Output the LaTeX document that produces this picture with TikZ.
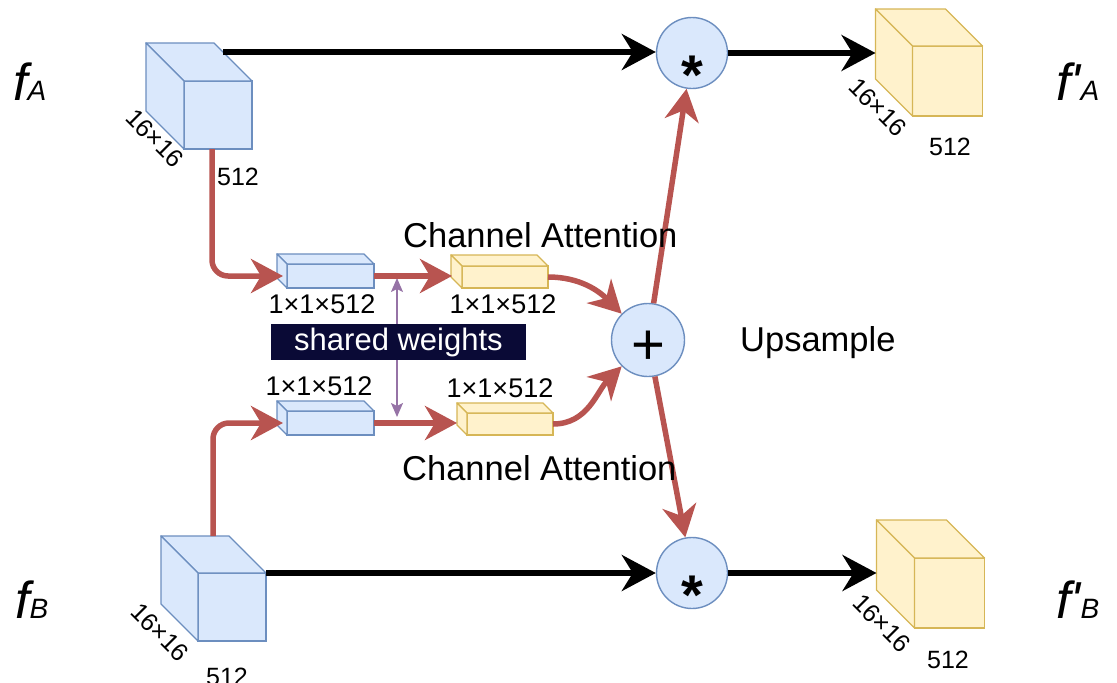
\documentclass[tikz,border=0pt]{standalone}
\usepackage{fontspec}
\setmainfont{Liberation Sans}
\usetikzlibrary{arrows.meta}

\definecolor{blueFill}{HTML}{DAE8FC}
\definecolor{blueLine}{HTML}{6C8EBF}
\definecolor{yelFill}{HTML}{FFF2CC}
\definecolor{yelLine}{HTML}{D6B656}
\definecolor{redLine}{HTML}{B85450}
\definecolor{purpLine}{HTML}{9673A6}
\definecolor{navyBox}{HTML}{0A0A36}

% side and top faces of a box whose front face is node #1
\newcommand\cubefaces[4]{%
  \filldraw[fill=#2, draw=#3, line width=1.4pt, line join=round]
    (#1.north west) -- ([shift={(-#4,-#4)}]#1.north west)
    -- ([shift={(-#4,-#4)}]#1.north east) -- (#1.north east) -- cycle;
  \filldraw[fill=#2, draw=#3, line width=1.4pt, line join=round]
    (#1.north west) -- ([shift={(-#4,-#4)}]#1.north west)
    -- ([shift={(-#4,-#4)}]#1.south west) -- (#1.south west) -- cycle;
}

\tikzset{
  face/.style 2 args={draw=#2, fill=#1, line width=1.4pt, inner sep=0pt, outer sep=0pt},
  bigblue/.style={face={blueFill}{blueLine}, minimum width=68pt, minimum height=68pt},
  bigyel/.style={face={yelFill}{yelLine}, minimum width=70pt, minimum height=70pt},
  smallblue/.style={face={blueFill}{blueLine}, minimum width=87pt, minimum height=24pt},
  smallyel/.style={face={yelFill}{yelLine}, minimum width=86pt, minimum height=22pt},
  opnode/.style={circle, draw=blueLine, fill=blueFill, line width=1.4pt, inner sep=0pt, minimum size=71pt},
  startxt/.style={font=\fontsize{56}{56}\selectfont\bfseries, inner sep=0pt, yshift=-22pt},
  plustxt/.style={font=\fontsize{58}{58}\selectfont, inner sep=0pt, yshift=-8pt},
  blk/.style={draw=black, line width=5.5pt, -{Stealth[length=34pt,width=36pt,inset=11pt]}},
  redarr/.style={draw=redLine, line width=5.5pt, -{Stealth[length=32pt,width=34pt,inset=10pt]}},
  purparr/.style={draw=purpLine, line width=1.8pt, {Stealth[length=14pt,width=12pt,inset=3pt]}-{Stealth[length=14pt,width=12pt,inset=3pt]}},
  dimtxt/.style={font=\fontsize{27}{30}\selectfont, inner sep=0pt},
  sizetxt/.style={font=\fontsize{25}{27}\selectfont, inner sep=0pt},
  headtxt/.style={font=\fontsize{34.5}{38}\selectfont, inner sep=0pt, anchor=base west},
  feat/.style={inner sep=0pt, anchor=base west},
  swbox/.style={fill=navyBox, text=white, font=\fontsize{31}{34}\selectfont, minimum width=255pt, minimum height=36pt, inner sep=0pt}
}
\newcommand\bigf{\fontsize{52}{52}\selectfont\itshape}
\newcommand\subf{\fontsize{28}{28}\selectfont\itshape}

\begin{document}
\begin{tikzpicture}[x=1pt, y=-1pt]
\useasboundingbox (0,0) rectangle (1117,683);

% feature blocks
\node[bigblue] (cA) at (218,115) {};
\cubefaces{cA}{blueFill}{blueLine}{38}
\node[bigblue] (cB) at (232,607) {};
\cubefaces{cB}{blueFill}{blueLine}{37}
\node[bigyel] (oA) at (947.5,81) {};
\cubefaces{oA}{yelFill}{yelLine}{37}
\node[bigyel] (oB) at (949.5,593) {};
\cubefaces{oB}{yelFill}{yelLine}{38}

% pooled vectors
\node[smallblue] (bA) at (330.5,276) {};
\cubefaces{bA}{blueFill}{blueLine}{10}
\node[smallyel] (yA) at (505,277) {};
\cubefaces{yA}{yelFill}{yelLine}{11}
\node[smallblue] (bB) at (330.5,423) {};
\cubefaces{bB}{blueFill}{blueLine}{10}
\node[smallyel] (yB) at (510,424) {};
\cubefaces{yB}{yelFill}{yelLine}{10}

% operators
\node[opnode, label={[startxt]center:*}] (mulA) at (692,53) {};
\node[opnode, minimum size=73pt, label={[plustxt]center:+}] (plus) at (648,340) {};
\node[opnode, label={[startxt]center:*}] (mulB) at (692,573) {};

% shared weights marker
\coordinate (swTop) at (397,278);
\coordinate (swBot) at (397,417);
\draw[purparr] (swTop) -- (swBot);
\node[swbox] (sw) at (398.5,342) {shared weights};

% main paths
\coordinate (aStart) at ([shift={(-29,-29)}]cA.north east);
\coordinate (oAin) at ([xshift=-37pt]oA.west);
\coordinate (oBin) at ([xshift=-38pt]oB.west);
\draw[blk] (aStart) -- (aStart -| mulA.west);
\draw[blk] (mulA) -- (mulA -| oAin);
\draw[blk] (cB.north east) -- (mulB.west);
\draw[blk] (mulB) -- (mulB -| oBin);

% attention branch
\draw[redarr, rounded corners=16pt] ([xshift=-6pt]cA.south) |- ([xshift=-4pt]bA.west);
\draw[redarr, rounded corners=16pt] ([shift={(-19,-37)}]cB.north) |- ([xshift=-4pt]bB.west);
\draw[redarr] (bA.east) -- ([xshift=-10pt]bA.east -| yA.west);
\draw[redarr] (bB.east) -- ([xshift=-10pt]bB.east -| yB.west);
\draw[redarr] (yA.east) to[out=0, in=135] (plus.135);
\draw[redarr] (yB.east) to[out=0, in=225] (plus.225);
\draw[redarr] (plus) -- (mulA);
\draw[redarr] (plus) -- (mulB);

% dimensions
\node[sizetxt, rotate=-45] (dA1) at (155,138) {16×16};
\node[sizetxt] (dA2) at (238,177) {512};
\node[sizetxt, rotate=-45] (dB1) at (160,632) {16×16};
\node[sizetxt] (dB2) at (227,677) {512};
\node[sizetxt, rotate=-45] (dC1) at (878,107) {16×16};
\node[sizetxt] (dC2) at (950,147) {512};
\node[sizetxt, rotate=-45] (dD1) at (882,623) {16×16};
\node[sizetxt] (dD2) at (948,660) {512};

\node[dimtxt] (vA1) at (322,304) {1×1×512};
\node[dimtxt] (vA2) at (503,304) {1×1×512};
\node[dimtxt] (vB1) at (319,386) {1×1×512};
\node[dimtxt] (vB2) at (500,388) {1×1×512};

% captions
\node[headtxt] (caA) at (403,247) {Channel Attention};
\node[headtxt] (caB) at (402,480) {Channel Attention};
\node[headtxt] (up) at (740,351) {Upsample};

% feature names
\node[feat] (fA) at (13,100) {\bigf f\subf A};
\node[feat] (fB) at (15,618) {\bigf f\subf B};
\node[feat] (gA) at (1056,100) {\bigf f\textquotesingle\subf A};
\node[feat] (gB) at (1056,618) {\bigf f\textquotesingle\subf B};
\end{tikzpicture}
\end{document}
